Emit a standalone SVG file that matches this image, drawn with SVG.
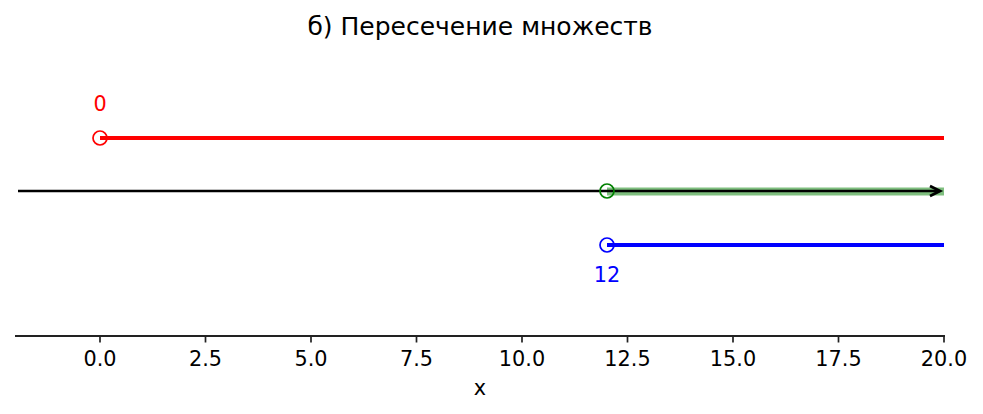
<svg xmlns="http://www.w3.org/2000/svg" width="983" height="414" viewBox="0 0 983 414">
<style>
text{font-family:"DejaVu Sans",sans-serif;}
.tick{font-size:20.8px;fill:#000;text-anchor:middle;}
.tk{stroke:#222;stroke-width:1.7;}
.ring{fill:none;stroke-width:1.7;}
</style>
<rect width="983" height="414" fill="#fff"/>
<text x="480" y="35" font-size="25" text-anchor="middle">б) Пересечение множеств</text>
<g id="axis">
<line x1="15" y1="336" x2="945" y2="336" stroke="#222" stroke-width="1.8"/>
<g class="tk">
<line x1="100" y1="336" x2="100" y2="342.5"/>
<line x1="205.5" y1="336" x2="205.5" y2="342.5"/>
<line x1="311" y1="336" x2="311" y2="342.5"/>
<line x1="416.5" y1="336" x2="416.5" y2="342.5"/>
<line x1="522" y1="336" x2="522" y2="342.5"/>
<line x1="627.5" y1="336" x2="627.5" y2="342.5"/>
<line x1="733" y1="336" x2="733" y2="342.5"/>
<line x1="838.5" y1="336" x2="838.5" y2="342.5"/>
<line x1="944" y1="336" x2="944" y2="342.5"/>
</g>
<text class="tick" x="100" y="366">0.0</text>
<text class="tick" x="205.5" y="366">2.5</text>
<text class="tick" x="311" y="366">5.0</text>
<text class="tick" x="416.5" y="366">7.5</text>
<text class="tick" x="522" y="366">10.0</text>
<text class="tick" x="627.5" y="366">12.5</text>
<text class="tick" x="733" y="366">15.0</text>
<text class="tick" x="838.5" y="366">17.5</text>
<text class="tick" x="944" y="366">20.0</text>
<text class="tick" x="480" y="395">x</text>
</g>
<g id="set-red">
<line x1="100" y1="138" x2="944" y2="138" stroke="#ff0000" stroke-width="4"/>
<circle class="ring" cx="100" cy="138" r="7" stroke="#ff0000"/>
<text x="100" y="110.5" font-size="20.8" fill="#ff0000" text-anchor="middle">0</text>
</g>
<g id="intersection">
<line x1="607" y1="191.5" x2="944" y2="191.5" stroke="#008000" stroke-opacity="0.5" stroke-width="8"/>
<line x1="18" y1="191" x2="939" y2="191" stroke="#000" stroke-width="2.6"/>
<path d="M930,186 L940,191 L930,196" fill="none" stroke="#000" stroke-width="2.8"/>
<circle class="ring" cx="607" cy="191" r="7" stroke="#008000"/>
</g>
<g id="set-blue">
<line x1="607" y1="245" x2="944" y2="245" stroke="#0000ff" stroke-width="4"/>
<circle class="ring" cx="607" cy="245" r="7" stroke="#0000ff"/>
<text x="607" y="281.5" font-size="20.8" fill="#0000ff" text-anchor="middle">12</text>
</g>
</svg>
